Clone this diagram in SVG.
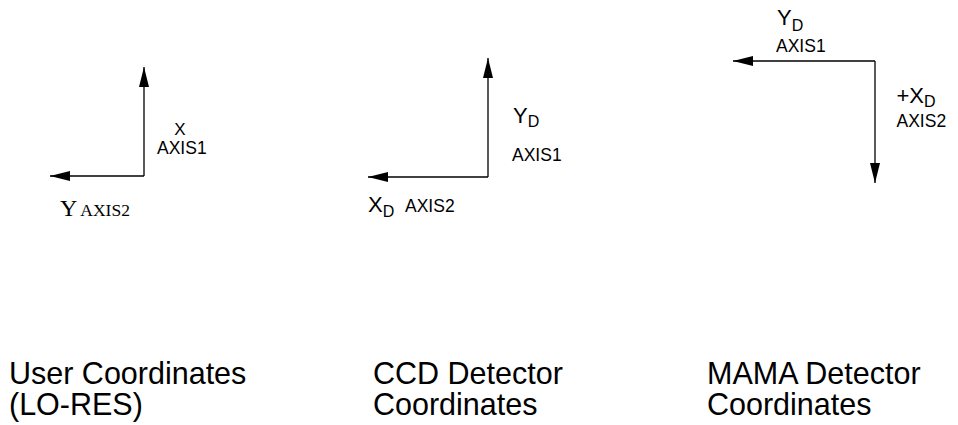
<svg xmlns="http://www.w3.org/2000/svg" width="958" height="425" viewBox="0 0 958 425">
<style>
.sans{font-family:"Liberation Sans",Arial,sans-serif;fill:#000}
.serif{font-family:"Liberation Serif","Times New Roman",serif;fill:#000}
.ax{stroke:#000;stroke-width:1.3;fill:none}
.title{font-size:30.5px}
.lab{font-size:17.5px}
.big{font-size:22px}
.sub{font-size:16px}
</style>
<defs>
<marker id="ah" markerUnits="userSpaceOnUse" markerWidth="20" markerHeight="11" refX="20" refY="5.5" orient="auto" viewBox="0 0 20 11">
<path d="M0,0.5 L20,5.5 L0,10.5 Z" fill="#000"/>
</marker>
</defs>
<rect width="958" height="425" fill="#fff"/>
<g id="connectors">
<path class="ax" d="M144,176 V67" marker-end="url(#ah)"/>
<path class="ax" d="M144,176 H50" marker-end="url(#ah)"/>
<path class="ax" d="M488,177 V58" marker-end="url(#ah)"/>
<path class="ax" d="M488,177 H368" marker-end="url(#ah)"/>
<path class="ax" d="M875,61 H733" marker-end="url(#ah)"/>
<path class="ax" d="M875,61 V183" marker-end="url(#ah)"/>
</g>
<g id="user">
<text class="sans" font-size="17" x="180" y="135" text-anchor="middle">X</text>
<text class="sans lab" x="157" y="154">AXIS1</text>
<text class="serif" x="60" y="216"><tspan font-size="24">Y</tspan><tspan font-size="17.5" dx="3">AXIS2</tspan></text>
<text class="sans title"><tspan x="9" y="384">User Coordinates</tspan><tspan x="9" y="415">(LO-RES)</tspan></text>
</g>
<g id="ccd">
<text class="sans" x="513" y="123"><tspan class="big">Y</tspan><tspan class="sub" dy="4">D</tspan></text>
<text class="sans lab" x="512" y="160.5">AXIS1</text>
<text class="sans" x="368" y="211.5"><tspan class="big">X</tspan><tspan class="sub" dy="5">D</tspan></text>
<text class="sans lab" x="405" y="211.5">AXIS2</text>
<text class="sans title"><tspan x="373" y="384">CCD Detector</tspan><tspan x="373" y="415">Coordinates</tspan></text>
</g>
<g id="mama">
<text class="sans" x="777" y="24.5"><tspan class="big">Y</tspan><tspan class="sub" dy="6">D</tspan></text>
<text class="sans lab" x="776" y="51.5">AXIS1</text>
<text class="sans" x="896.5" y="103"><tspan class="big">+X</tspan><tspan class="sub" dy="4">D</tspan></text>
<text class="sans lab" x="896.5" y="127">AXIS2</text>
<text class="sans title"><tspan x="707" y="384">MAMA Detector</tspan><tspan x="707" y="415">Coordinates</tspan></text>
</g>
</svg>
